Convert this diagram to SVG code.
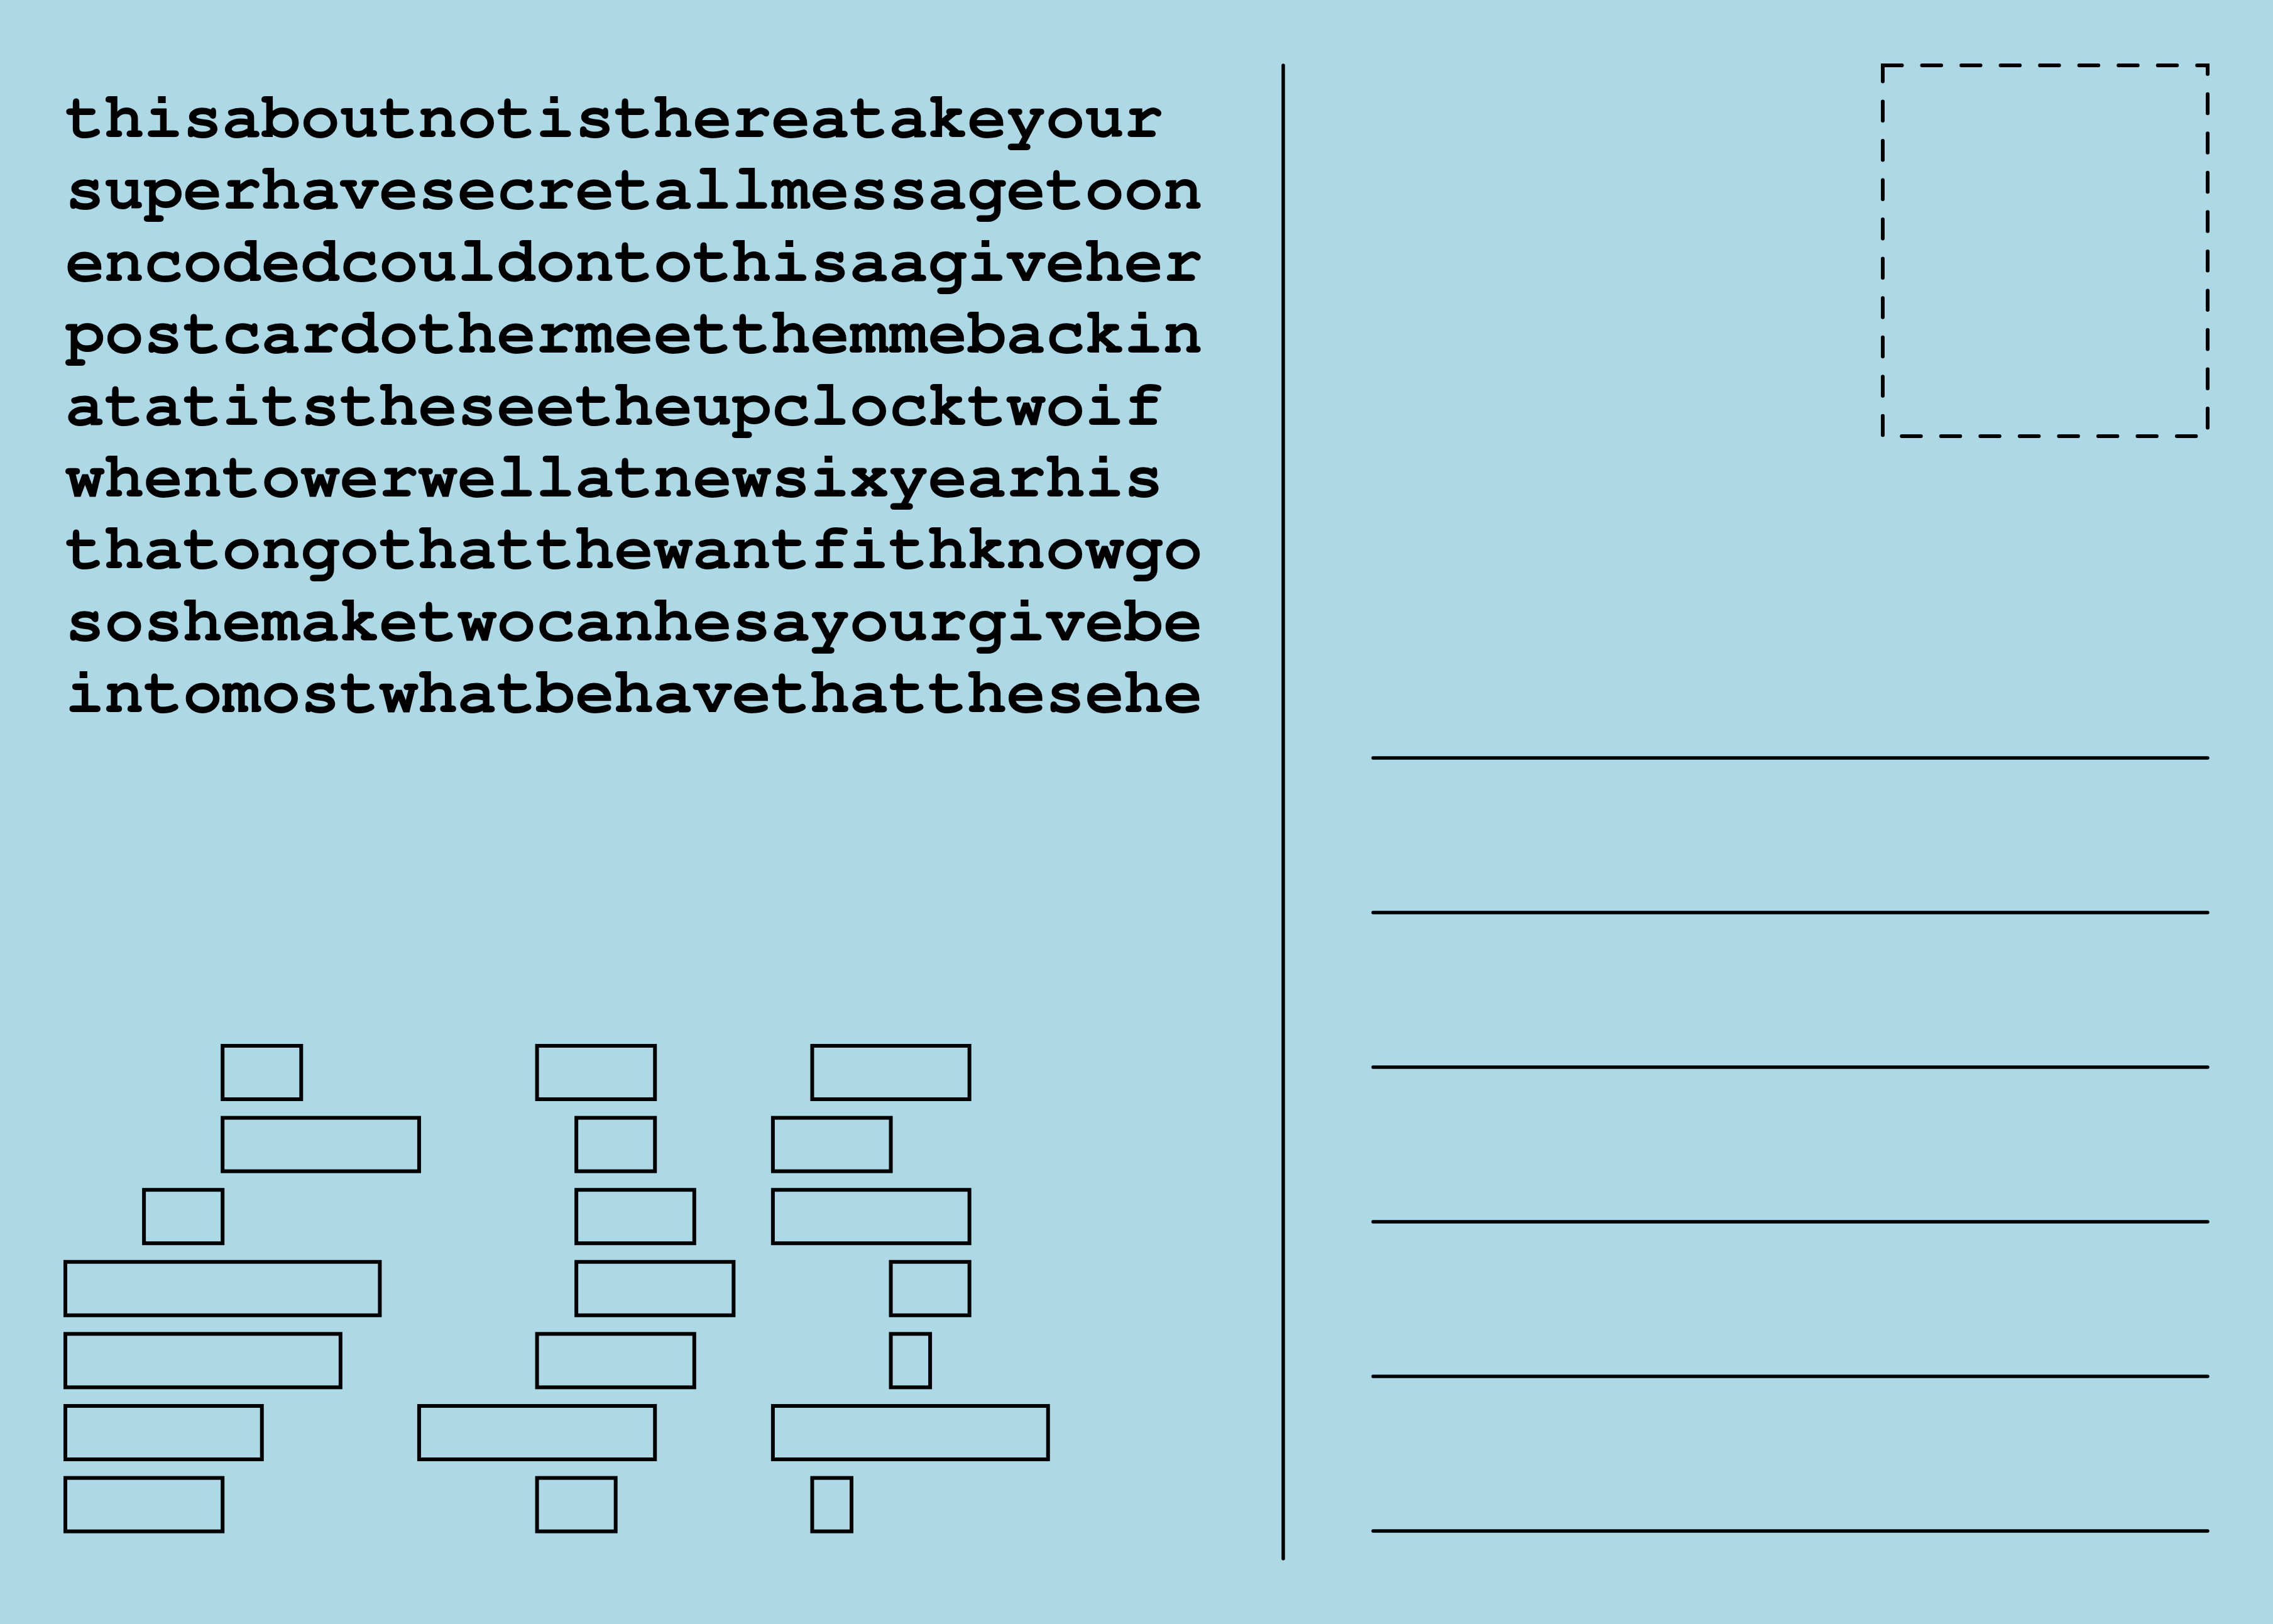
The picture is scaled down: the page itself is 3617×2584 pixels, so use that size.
<svg xmlns="http://www.w3.org/2000/svg" width="3617" height="2584" viewBox="0 0 3617 2584">
  <style>
    .msg { font-family: "Nimbus Mono PS", "Nimbus Mono L", "FreeMono", "Courier", "Courier New", "Liberation Mono", monospace; font-weight: bold; font-size: 104px; fill: #000; }
    .box { fill: none; stroke: #000; stroke-width: 6; }
    .rule { stroke: #000; stroke-width: 5.5; stroke-linecap: round; fill: none; }
    .stamp { fill: none; stroke: #000; stroke-width: 6; stroke-dasharray: 30.5 32.03; stroke-linecap: round; }
  </style>
  <rect id="background" x="0" y="0" width="3617" height="2584" fill="#ADD8E6"/>

  <g id="message">
    <text class="msg" x="104" y="218">thisaboutnotisthereatakeyour</text>
    <text class="msg" x="104" y="332.4">superhavesecretallmessagetoon</text>
    <text class="msg" x="104" y="446.8">encodedcouldontothisaagiveher</text>
    <text class="msg" x="104" y="561.2">postcardothermeetthemmebackin</text>
    <text class="msg" x="104" y="675.6">atatitstheseetheupclocktwoif</text>
    <text class="msg" x="104" y="790">whentowerwellatnewsixyearhis</text>
    <text class="msg" x="104" y="904.4">thatongothatthewantfithknowgo</text>
    <text class="msg" x="104" y="1018.8">soshemaketwocanhesayourgivebe</text>
    <text class="msg" x="104" y="1133.2">intomostwhatbehavethatthesehe</text>
  </g>

  <g id="code-blocks">
    <rect class="box" x="354.2" y="1664" width="125.1" height="85"/>
    <rect class="box" x="854.6" y="1664" width="187.65" height="85"/>
    <rect class="box" x="1292.45" y="1664" width="250.2" height="85"/>

    <rect class="box" x="354.2" y="1778.6" width="312.75" height="85"/>
    <rect class="box" x="917.15" y="1778.6" width="125.1" height="85"/>
    <rect class="box" x="1229.9" y="1778.6" width="187.65" height="85"/>

    <rect class="box" x="229.1" y="1893.2" width="125.1" height="85"/>
    <rect class="box" x="917.15" y="1893.2" width="187.65" height="85"/>
    <rect class="box" x="1229.9" y="1893.2" width="312.75" height="85"/>

    <rect class="box" x="104" y="2007.8" width="500.4" height="85"/>
    <rect class="box" x="917.15" y="2007.8" width="250.2" height="85"/>
    <rect class="box" x="1417.55" y="2007.8" width="125.1" height="85"/>

    <rect class="box" x="104" y="2122.4" width="437.85" height="85"/>
    <rect class="box" x="854.6" y="2122.4" width="250.2" height="85"/>
    <rect class="box" x="1417.55" y="2122.4" width="62.55" height="85"/>

    <rect class="box" x="104" y="2237" width="312.75" height="85"/>
    <rect class="box" x="666.95" y="2237" width="375.3" height="85"/>
    <rect class="box" x="1229.9" y="2237" width="437.85" height="85"/>

    <rect class="box" x="104" y="2351.6" width="250.2" height="85"/>
    <rect class="box" x="854.6" y="2351.6" width="125.1" height="85"/>
    <rect class="box" x="1292.45" y="2351.6" width="62.55" height="85"/>
  </g>

  <g id="divider">
    <line class="rule" x1="2042" y1="104" x2="2042" y2="2480"/>
  </g>

  <g id="stamp">
    <rect class="stamp" x="2996" y="104" width="517" height="590" stroke-linejoin="miter"/>
  </g>

  <g id="address-lines">
    <line class="rule" x1="2185" y1="1206" x2="3513" y2="1206"/>
    <line class="rule" x1="2185" y1="1452" x2="3513" y2="1452"/>
    <line class="rule" x1="2185" y1="1698" x2="3513" y2="1698"/>
    <line class="rule" x1="2185" y1="1944" x2="3513" y2="1944"/>
    <line class="rule" x1="2185" y1="2190" x2="3513" y2="2190"/>
    <line class="rule" x1="2185" y1="2436" x2="3513" y2="2436"/>
  </g>
</svg>
